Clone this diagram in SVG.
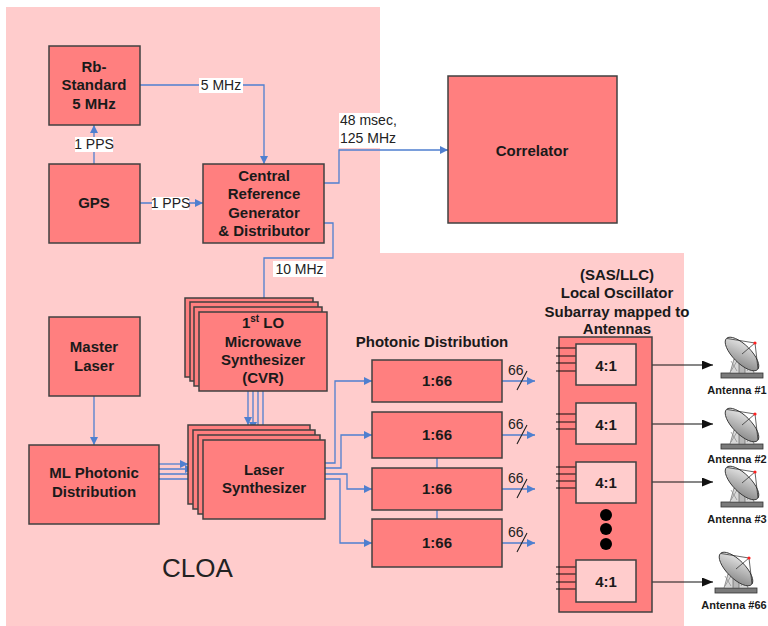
<svg xmlns="http://www.w3.org/2000/svg" width="768" height="626" viewBox="0 0 768 626">
<style>
.node{fill:#ff7f7f;stroke:#404040;stroke-width:1.5}
.sub{fill:#ffcccc;stroke:#404040;stroke-width:1.5}
.t{font-family:"Liberation Sans",Arial,sans-serif;font-weight:bold;font-size:15px;fill:#1a1a1a;text-anchor:middle}
.lbl{font-family:"Liberation Sans",Arial,sans-serif;font-size:14px;fill:#222}
.bg{fill:#ffffff}
.wire{stroke:#4f7fcf;stroke-width:1.3;fill:none}
.bk{stroke:#111;stroke-width:1.2;fill:none}
.ant{font-family:"Liberation Sans",Arial,sans-serif;font-weight:bold;font-size:11px;fill:#1a1a1a;text-anchor:middle}
</style>
<defs>
<marker id="ab" markerUnits="userSpaceOnUse" markerWidth="8" markerHeight="8" refX="8" refY="4" orient="auto">
<path d="M0,0 L8,4 L0,8 z" fill="#4f7fcf"/>
</marker>
<marker id="ak" markerUnits="userSpaceOnUse" markerWidth="11" markerHeight="9" refX="11" refY="4.5" orient="auto">
<path d="M0,0 L11,4.5 L0,9 z" fill="#111"/>
</marker>
<linearGradient id="dg" x1="0" y1="0" x2="1" y2="1">
<stop offset="0" stop-color="#f2f2f2"/>
<stop offset="1" stop-color="#7d7d7d"/>
</linearGradient>
<g id="antIcon">
<rect x="0" y="36" width="42" height="5" fill="#7a7a7a" stroke="#333" stroke-width="0.8"/>
<polygon points="9,36 13,22 29,22 33,36" fill="#d8d8d8" stroke="#555" stroke-width="0.6"/>
<path d="M10,34 L16,24 M16,34 L10,24 M26,34 L32,24 M32,34 L26,24" stroke="#888" stroke-width="0.7"/>
<rect x="18" y="18" width="6" height="18" fill="#b8b8b8" stroke="#555" stroke-width="0.6"/>
<ellipse cx="21" cy="17" rx="22" ry="9" transform="rotate(45 21 17)" fill="url(#dg)" stroke="#333" stroke-width="0.9"/>
<path d="M6,1.5 L34,6 L37,32 M34,6 L21,17" stroke="#222" stroke-width="0.7" fill="none"/>
<circle cx="34" cy="6" r="1.6" fill="#ff2020"/>
</g>
</defs>
<rect width="768" height="626" fill="#ffffff"/>
<path d="M6,7 H380 V253 H684 V626 H6 Z" fill="#ffcccc"/>

<g id="connectors">
<path class="wire" d="M140,85 H264 V164" marker-end="url(#ab)"/>
<path class="wire" d="M94,164 V125" marker-end="url(#ab)"/>
<path class="wire" d="M140,203 H203" marker-end="url(#ab)"/>
<path class="wire" d="M324,183 H339 V150 H448" marker-end="url(#ab)"/>
<path class="wire" d="M324,223 H333 V258 H264 V311" marker-end="url(#ab)"/>
<path class="wire" d="M248,391 V425" marker-end="url(#ab)"/>
<path class="wire" d="M253,391 V430" marker-end="url(#ab)"/>
<path class="wire" d="M258,391 V435" marker-end="url(#ab)"/>
<path class="wire" d="M263,391 V440" marker-end="url(#ab)"/>
<path class="wire" d="M94,396 V445" marker-end="url(#ab)"/>
<path class="wire" d="M159,464 H188" marker-end="url(#ab)"/>
<path class="wire" d="M159,469 H193" marker-end="url(#ab)"/>
<path class="wire" d="M159,474 H198" marker-end="url(#ab)"/>
<path class="wire" d="M159,479 H203" marker-end="url(#ab)"/>
<path class="wire" d="M325,463 H335 V381 H372" marker-end="url(#ab)"/>
<path class="wire" d="M325,468 H341 V435 H372" marker-end="url(#ab)"/>
<path class="wire" d="M325,474 H347 V489 H372" marker-end="url(#ab)"/>
<path class="wire" d="M325,479 H340 V543 H372" marker-end="url(#ab)"/>
<path class="wire" d="M437,458 V468 M437,510 V519"/>
<path class="wire" d="M502,381 H535" marker-end="url(#ab)"/>
<path class="wire" d="M502,435 H535" marker-end="url(#ab)"/>
<path class="wire" d="M502,489 H535" marker-end="url(#ab)"/>
<path class="wire" d="M502,543 H535" marker-end="url(#ab)"/>
<path d="M517,390 L527,371 M517,444 L527,425 M517,498 L527,479 M517,552 L527,533" stroke="#222" stroke-width="1.1"/>
<text class="lbl" x="508" y="375" font-size="13">66</text>
<text class="lbl" x="508" y="429" font-size="13">66</text>
<text class="lbl" x="508" y="483" font-size="13">66</text>
<text class="lbl" x="508" y="537" font-size="13">66</text>
<rect class="bg" x="199" y="78" width="44" height="15"/>
<text class="lbl" x="221" y="90" text-anchor="middle">5 MHz</text>
<rect class="bg" x="75" y="137" width="38" height="15"/>
<text class="lbl" x="94" y="149" text-anchor="middle" font-size="13">1 PPS</text>
<rect class="bg" x="152" y="197" width="37" height="13"/>
<text class="lbl" x="170.5" y="208" text-anchor="middle" font-size="13">1 PPS</text>
<rect class="bg" x="339" y="113" width="64" height="35"/>
<text class="lbl" x="340" y="125" font-size="14.5">48 msec,</text>
<text class="lbl" x="340" y="143" font-size="14.5">125 MHz</text>
<rect class="bg" x="273" y="261" width="53" height="16"/>
<text class="lbl" x="299.5" y="274" text-anchor="middle">10 MHz</text>
<path class="bk" d="M636,365 H713" marker-end="url(#ak)"/>
<path class="bk" d="M636,424 H713" marker-end="url(#ak)"/>
<path class="bk" d="M636,482 H713" marker-end="url(#ak)"/>
<path class="bk" d="M636,582 H713" marker-end="url(#ak)"/>
</g>

<g id="rb">
<rect class="node" x="49" y="46" width="91" height="79"/>
<text class="t" x="94" y="72">Rb-</text>
<text class="t" x="94" y="90">Standard</text>
<text class="t" x="94" y="109">5 MHz</text>
</g>
<g id="gps">
<rect class="node" x="49" y="164" width="91" height="79"/>
<text class="t" x="94" y="208">GPS</text>
</g>
<g id="crg">
<rect class="node" x="203" y="164" width="121" height="79"/>
<text class="t" x="264" y="181">Central</text>
<text class="t" x="264" y="199">Reference</text>
<text class="t" x="264" y="218">Generator</text>
<text class="t" x="264" y="236">&amp; Distributor</text>
</g>
<g id="correlator">
<rect class="node" x="448" y="76" width="169" height="147"/>
<text class="t" x="532" y="156" font-size="17">Correlator</text>
</g>
<g id="lo">
<rect class="node" x="185" y="298" width="128" height="79"/>
<rect class="node" x="190" y="302" width="128" height="79"/>
<rect class="node" x="194" y="307" width="128" height="79"/>
<rect class="node" x="199" y="312" width="128" height="79"/>
<text class="t" x="263" y="328">1<tspan dy="-6" font-size="10">st</tspan><tspan dy="6"> LO</tspan></text>
<text class="t" x="263" y="347">Microwave</text>
<text class="t" x="263" y="365">Synthesizer</text>
<text class="t" x="263" y="383">(CVR)</text>
</g>
<g id="master">
<rect class="node" x="49" y="317" width="91" height="79"/>
<text class="t" x="94" y="352">Master</text>
<text class="t" x="94" y="371">Laser</text>
</g>
<g id="mlpd">
<rect class="node" x="29" y="445" width="130" height="79"/>
<text class="t" x="94" y="478">ML Photonic</text>
<text class="t" x="94" y="497">Distribution</text>
</g>
<g id="laser">
<rect class="node" x="188" y="425" width="122" height="79"/>
<rect class="node" x="193" y="430" width="122" height="79"/>
<rect class="node" x="198" y="435" width="122" height="79"/>
<rect class="node" x="203" y="440" width="122" height="79"/>
<text class="t" x="264" y="475">Laser</text>
<text class="t" x="264" y="493">Synthesizer</text>
</g>
<g id="photonic">
<text class="t" x="432" y="347">Photonic Distribution</text>
<rect class="node" x="372" y="360" width="130" height="42"/>
<text class="t" x="437" y="386">1:66</text>
<rect class="node" x="372" y="412" width="130" height="46"/>
<text class="t" x="437" y="440">1:66</text>
<rect class="node" x="372" y="468" width="130" height="42"/>
<text class="t" x="437" y="494">1:66</text>
<rect class="node" x="372" y="519" width="130" height="48"/>
<text class="t" x="437" y="548">1:66</text>
</g>
<g id="sas">
<text class="t" x="617" y="280">(SAS/LLC)</text>
<text class="t" x="617" y="298">Local Oscillator</text>
<text class="t" x="617" y="317">Subarray mapped to</text>
<text class="t" x="617" y="334">Antennas</text>
<rect class="node" x="559" y="337" width="93" height="275"/>
<path class="bk" d="M556,348 H576 M556,356 H576 M556,363 H576 M556,371 H576"/>
<path class="bk" d="M556,414 H576 M556,422 H576 M556,429 H576"/>
<path class="bk" d="M556,467 H576 M556,474 H576 M556,481 H576 M556,488 H576"/>
<path class="bk" d="M556,567 H576 M556,574 H576 M556,582 H576 M556,589 H576"/>
<rect class="sub" x="576" y="344" width="60" height="41"/>
<text class="t" x="606" y="371" font-size="16">4:1</text>
<rect class="sub" x="576" y="403" width="60" height="41"/>
<text class="t" x="606" y="430" font-size="16">4:1</text>
<rect class="sub" x="576" y="462" width="60" height="41"/>
<text class="t" x="606" y="488" font-size="16">4:1</text>
<rect class="sub" x="576" y="560" width="60" height="42"/>
<text class="t" x="606" y="587" font-size="16">4:1</text>
<circle cx="606" cy="515" r="6" fill="#000"/>
<circle cx="606" cy="529" r="6" fill="#000"/>
<circle cx="606" cy="544" r="6" fill="#000"/>
</g>
<g id="antenna1">
<use href="#antIcon" transform="translate(721,337)"/>
<text class="ant" x="737" y="394">Antenna #1</text>
</g>
<g id="antenna2">
<use href="#antIcon" transform="translate(721,408)"/>
<text class="ant" x="737" y="463">Antenna #2</text>
</g>
<g id="antenna3">
<use href="#antIcon" transform="translate(721,466)"/>
<text class="ant" x="737" y="523">Antenna #3</text>
</g>
<g id="antenna66">
<use href="#antIcon" transform="translate(715,552)"/>
<text class="ant" x="734" y="609">Antenna #66</text>
</g>
<text x="162" y="577" font-family="Liberation Sans, Arial, sans-serif" font-size="26" fill="#222">CLOA</text>
</svg>
